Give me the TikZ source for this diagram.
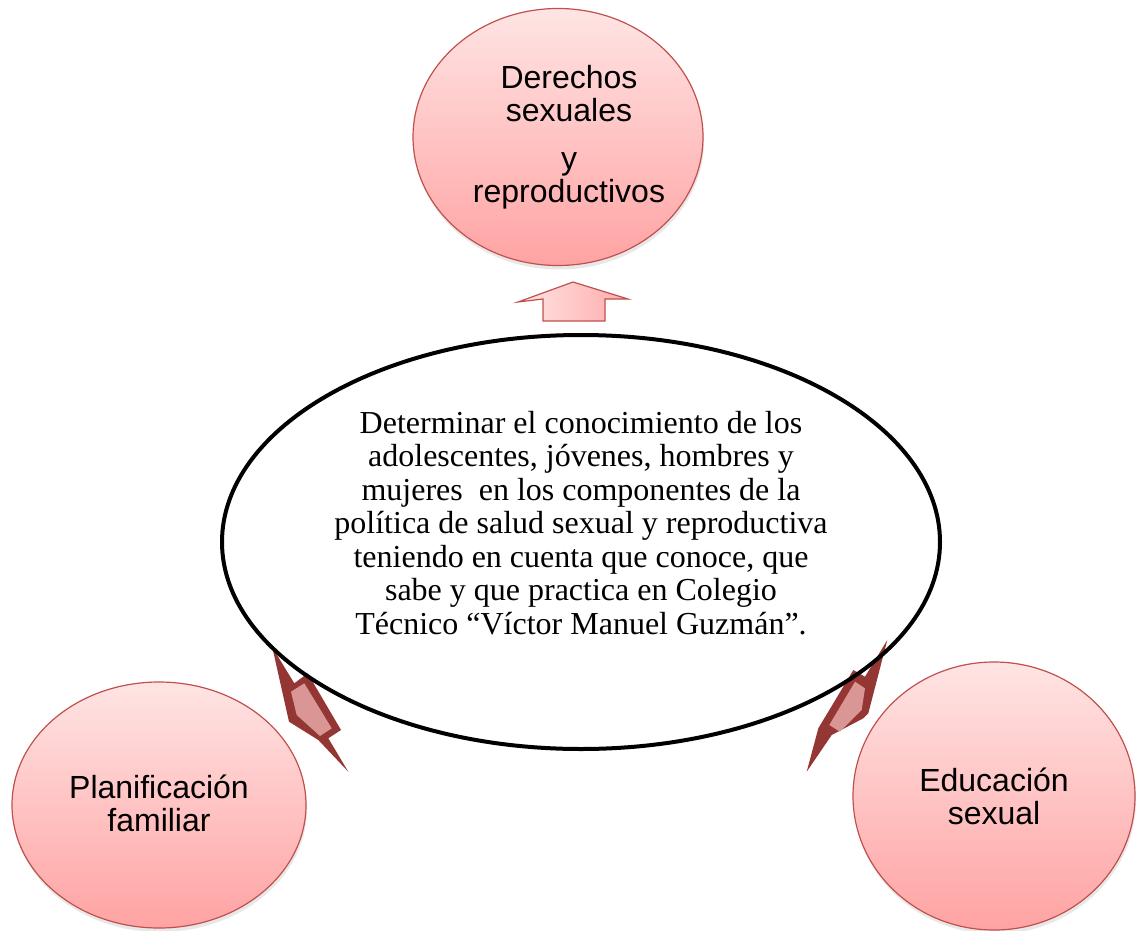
\documentclass[tikz,border=0pt]{standalone}
\usepackage{fontspec}
\setmainfont{Liberation Serif}
\setsansfont{Liberation Sans}
\usetikzlibrary{shapes.geometric,shadows}
\definecolor{pktop}{HTML}{FFE4E4}
\definecolor{pkbot}{HTML}{FFA3A3}
\definecolor{pkedge}{HTML}{C0504D}
\definecolor{boltdark}{HTML}{943634}
\definecolor{boltlight}{HTML}{D99694}
\tikzset{
  pinkball/.style={ellipse, draw=pkedge, line width=1.2pt, top color=pktop, bottom color=pkbot, inner sep=0pt,
    drop shadow={opacity=0.18, shadow xshift=1pt, shadow yshift=-4pt}},
  sanslabel/.style={font=\sffamily\fontsize{32}{33}\selectfont, align=center, text=black},
  seriflabel/.style={font=\rmfamily\fontsize{32}{33.5}\selectfont, align=center, text=black},
  boltout/.style={fill=boltdark, draw=none},
  boltin/.style={fill=boltlight, draw=none},
}
\begin{document}
\begin{tikzpicture}[x=1pt,y=-1pt]
\useasboundingbox (0,0) rectangle (1140,931);
% top circle
\node[pinkball, minimum width=290pt, minimum height=257pt] (top) at (558,137) {};
\node[sanslabel] (toptext) at (569,137) {Derechos\\sexuales\\[15pt]y\\reproductivos};
% bottom circles
\node[pinkball, minimum width=294pt, minimum height=246pt] (left) at (159,805) {};
\node[sanslabel] (lefttext) at (159,803) {Planificación\\familiar};
\node[pinkball, minimum width=282pt, minimum height=268pt] (right) at (994,796) {};
\node[sanslabel] (righttext) at (994,796) {Educación\\sexual};
% up arrow
\draw[pkedge, line width=1.2pt, left color=pktop, right color=pkbot!90!white]
  (573,282) coordinate (uptip) -- (628,299) -- (605,299) -- (605,321) -- (543,321) -- (543,299) -- (518,302) -- cycle;
% central ellipse
\node[ellipse, fill=white, minimum width=722pt, minimum height=418pt, inner sep=0pt] (center) at (581,542) {};
\node[seriflabel] (centertext) at (581,523) {Determinar el conocimiento de los\\adolescentes, jóvenes, hombres y\\mujeres\ \ en los componentes de la\\política de salud sexual y reproductiva\\teniendo en cuenta que conoce, que\\sabe y que practica en Colegio\\Técnico “Víctor Manuel Guzmán”.};
% left bolt
\fill[boltout] (272.3,647.3) -- (294.3,683.3) -- (307.7,673.3) -- (341,730) -- (328.3,738.3) -- (348.3,771.7)
  -- (318.3,740) -- (289,721.7) -- cycle;
\fill[boltin] (291,691.7) -- (304.3,683.3) -- (331.7,728.3) -- (320,736) -- (296.7,715) -- cycle;
% right bolt
\fill[boltout] (887.3,640) -- (868.3,713.3) -- (863.3,718.3) -- (831.7,735) -- (806.7,771.7) -- (818.3,728.3)
  -- (853.3,670) -- (865,676.7) -- cycle;
\fill[boltin] (855,681.7) -- (865,688.3) -- (861.7,710) -- (840,731.7) -- (829.3,725) -- cycle;
% central ellipse outline on top
\draw[line width=4pt, black] (center.center) ellipse [x radius=359, y radius=207];
\end{tikzpicture}
\end{document}
